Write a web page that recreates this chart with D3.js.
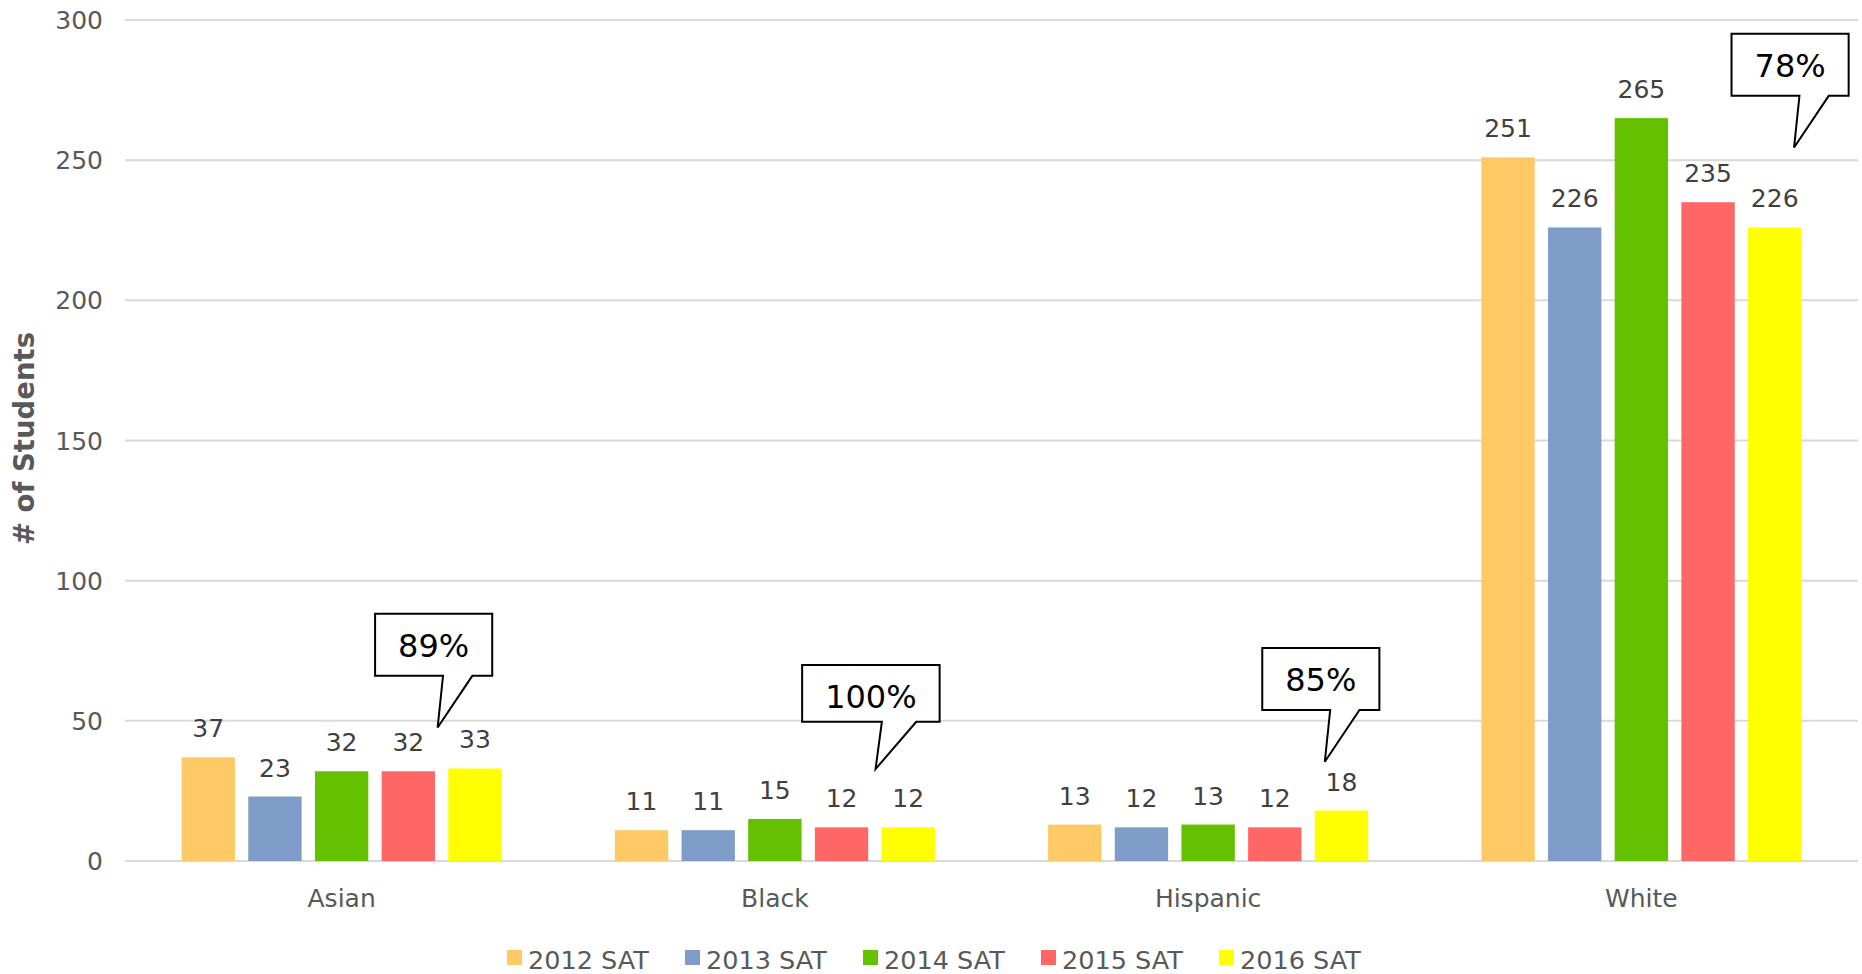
<!DOCTYPE html>
<html>
<head>
<meta charset="utf-8">
<script src="https://cdn.jsdelivr.net/npm/d3@7"></script>
<style>
  html, body { margin: 0; padding: 0; background: #fff; }
  svg { display: block; font-family: "DejaVu Sans", Verdana, sans-serif; }
</style>
</head>
<body>
<svg id="chart" width="1862" height="974"></svg>
<script>
// ---- data ----
const categories = ["Asian", "Black", "Hispanic", "White"];
const seriesNames = ["2012 SAT", "2013 SAT", "2014 SAT", "2015 SAT", "2016 SAT"];
const values2012 = [37, 11, 13, 251];
const values2013 = [23, 11, 12, 226];
const values2014 = [32, 15, 13, 265];
const values2015 = [32, 12, 12, 235];
const values2016 = [33, 12, 18, 226];
const seriesColors = ["#FFCA66", "#7F9BC8", "#64C000", "#FF6666", "#FFFF00"];
const yTicks = [0, 50, 100, 150, 200, 250, 300];
const yTitle = "# of Students";
// callouts: label, category, anchor in series-index units and value units
const calloutLabels = ["89%", "100%", "85%", "78%"];
const calloutCategories = ["Asian", "Black", "Hispanic", "White"];
const calloutSeriesPos = [3.44, 3.51, 3.75, 4.29];
const calloutValues = [47.6, 32.8, 35.4, 254.5];

const allSeries = [values2012, values2013, values2014, values2015, values2016];

// ---- layout ----
const svg = d3.select("#chart");
const plotLeft = 125, plotRight = 1858, plotTop = 20, plotBottom = 861;

const x0 = d3.scaleBand().domain(categories).range([plotLeft, plotRight]).paddingInner(0).paddingOuter(0);
const groupPad = 56.6;
const x1 = d3.scaleBand().domain(d3.range(seriesNames.length))
  .range([groupPad, x0.bandwidth() - groupPad]).paddingInner(0.2).paddingOuter(0);
const y = d3.scaleLinear().domain([0, 300]).range([plotBottom, plotTop]);

// gridlines
svg.append("g").selectAll("line").data(yTicks).join("line")
  .attr("x1", plotLeft).attr("x2", plotRight)
  .attr("y1", d => y(d)).attr("y2", d => y(d))
  .attr("stroke", "#D9D9D9").attr("stroke-width", 2);

// y tick labels
svg.append("g").selectAll("text").data(yTicks).join("text")
  .attr("x", 103).attr("y", d => y(d)).attr("dy", "0.36em")
  .attr("text-anchor", "end").attr("font-size", 25).attr("fill", "#595959")
  .text(d => d);

// y title
svg.append("text")
  .attr("transform", `translate(34, ${(plotTop + plotBottom) / 2 - 2}) rotate(-90)`)
  .attr("text-anchor", "middle").attr("font-size", 27.5).attr("font-weight", "bold")
  .attr("fill", "#595959").text(yTitle);

// bars
const groups = svg.append("g").selectAll("g").data(categories).join("g")
  .attr("transform", d => `translate(${x0(d)},0)`);

groups.each(function(cat, ci) {
  const g = d3.select(this);
  const data = allSeries.map((s, si) => ({ si, v: s[ci] }));
  g.selectAll("rect").data(data).join("rect")
    .attr("x", d => x1(d.si)).attr("width", x1.bandwidth())
    .attr("y", d => y(d.v)).attr("height", d => y(0) - y(d.v))
    .attr("fill", d => seriesColors[d.si]);
  g.selectAll("text").data(data).join("text")
    .attr("x", d => x1(d.si) + x1.bandwidth() / 2)
    .attr("y", d => y(d.v) - 20)
    .attr("text-anchor", "middle").attr("font-size", 25).attr("fill", "#404040")
    .text(d => d.v);
});

// category labels
svg.append("g").selectAll("text").data(categories).join("text")
  .attr("x", d => x0(d) + x0.bandwidth() / 2).attr("y", 906.5)
  .attr("text-anchor", "middle").attr("font-size", 25).attr("fill", "#595959")
  .text(d => d);

// legend
const legendX = d3.scaleLinear().domain([0, 1]).range([507, 685]);
const legend = svg.append("g").selectAll("g").data(seriesNames).join("g")
  .attr("transform", (d, i) => `translate(${legendX(i)},950)`);
legend.append("rect").attr("width", 15).attr("height", 15)
  .attr("fill", (d, i) => seriesColors[i]);
legend.append("text").attr("x", 21).attr("y", 19)
  .attr("font-size", 25.5).attr("fill", "#595959").text(d => d);

// callouts
const step = x1.step();
calloutLabels.forEach((label, i) => {
  const cat = calloutCategories[i];
  const tipX = x0(cat) + x1(0) + x1.bandwidth() / 2 + calloutSeriesPos[i] * step;
  const tipY = y(calloutValues[i]);
  const g = svg.append("g");
  const t = g.append("text").attr("font-size", 32).attr("fill", "#000")
    .attr("text-anchor", "middle").text(label);
  const tw = t.node().getComputedTextLength();
  const wide = label.length > 3;
  const w = tw + 46;
  const h = wide ? 56.7 : 62;
  const cx = tipX - 0.034 * w;
  const bBottom = tipY - (wide ? 47.3 : 51.7), bTop = bBottom - h;
  const bl = cx - w / 2, br = cx + w / 2;
  const t1 = cx + 0.08 * w, t2 = cx + 0.33 * w;
  const path = d3.path();
  path.moveTo(bl, bTop); path.lineTo(br, bTop); path.lineTo(br, bBottom);
  path.lineTo(t2, bBottom); path.lineTo(tipX, tipY); path.lineTo(t1, bBottom);
  path.lineTo(bl, bBottom); path.closePath();
  g.insert("path", "text").attr("d", path.toString())
    .attr("fill", "#fff").attr("stroke", "#000").attr("stroke-width", 2)
    .attr("stroke-linejoin", "miter");
  t.attr("x", cx).attr("y", bTop + 43);
});
</script>
</body>
</html>
